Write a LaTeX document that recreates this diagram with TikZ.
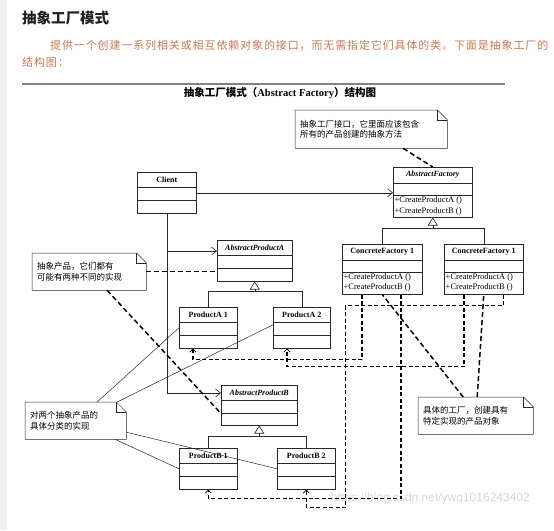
\documentclass[tikz,border=0pt]{standalone}
\usepackage{fontspec}
\setmainfont{Liberation Serif}
\newfontfamily\cjk{Noto Sans CJK SC}
\newfontfamily\cjksp[LetterSpace=8]{Noto Sans CJK SC}
\newfontfamily\wmfont{Liberation Sans}
\usetikzlibrary{arrows.meta,calc}
\definecolor{paracol}{RGB}{200,120,85}
\definecolor{headcol}{RGB}{34,34,34}
\definecolor{rulecol}{RGB}{130,130,130}
\definecolor{gutter}{RGB}{240,240,240}
\definecolor{linecol}{RGB}{40,40,40}
\newcommand{\umlcls}[7]{%
  \node[clsbox, minimum width=#4pt, minimum height=#5pt, anchor=north west] (#1) at (#2,#3) {};
  \draw[thinline] ($(#1.north west)+(0,#6)$) -- ($(#1.north east)+(0,#6)$);
  \draw[thinline] ($(#1.north west)+(0,#7)$) -- ($(#1.north east)+(0,#7)$);
}
\newcommand{\noteframe}[1]{%
  \draw[thinline] (#1.north west) -- ($(#1.north east)+(-10,0)$) -- ($(#1.north east)+(0,10)$) -- (#1.south east) -- (#1.south west) -- cycle;
  \draw[thinline] ($(#1.north east)+(-10,0)$) -- ($(#1.north east)+(-10,10)$) -- ($(#1.north east)+(0,10)$);
}
\begin{document}
\begin{tikzpicture}[x=1pt,y=-1pt,
  thinline/.style={line width=0.5pt, draw=linecol},
  clsbox/.style={draw=linecol, line width=0.5pt, fill=white, inner sep=0pt},
  clstitle/.style={font=\fontsize{8}{9}\selectfont\bfseries, inner sep=0pt},
  clsitalic/.style={font=\fontsize{8}{9}\selectfont\bfseries\itshape, inner sep=0pt},
  ops/.style={font=\fontsize{8.5}{9}\selectfont, inner sep=0pt, anchor=west},
  notebox/.style={inner xsep=5pt, inner ysep=0pt, align=left, anchor=north west, font=\cjk\fontsize{8.5}{10.5}\selectfont},
  notedash/.style={line width=1.5pt, dash pattern=on 5pt off 3pt, draw=black},
  dep/.style={line width=1.2pt, dash pattern=on 4pt off 2.5pt, draw=black, -{Straight Barb[length=3pt,width=6pt,line width=0.8pt]}},
  assoc/.style={line width=0.5pt, draw=linecol, -{Straight Barb[length=5pt,width=8pt,line width=0.6pt]}},
  inh/.style={line width=0.5pt, draw=linecol, -{Triangle[open,length=8pt,width=10pt,line width=0.6pt,fill=white]}},
]
\useasboundingbox (0,0) rectangle (554,530);
\fill[gutter] (0,0) rectangle (7,530);

% page header
\node[anchor=west, inner sep=0pt, font=\cjk\bfseries\fontsize{14.5}{16}\selectfont, text=headcol] (hdr) at (22,18) {抽象工厂模式};
\node[anchor=west, inner sep=0pt, font=\cjksp\fontsize{11}{13}\selectfont, text=paracol] (p1) at (50,45) {提供一个创建一系列相关或相互依赖对象的接口，而无需指定它们具体的类。下面是抽象工厂的};
\node[anchor=west, inner sep=0pt, font=\cjksp\fontsize{11}{13}\selectfont, text=paracol] (p2) at (22,62) {结构图：};
\draw[rulecol, line width=1.5pt] (22,84) -- (505,84);
\node[inner sep=0pt, font=\fontsize{10.5}{12}\selectfont\bfseries] (dtitle) at (280,93) {{\cjk 抽象工厂模式（}Abstract Factory{\cjk ）结构图}};

% watermark
\node[anchor=east, inner sep=0pt, font=\wmfont\fontsize{12}{14}\selectfont, text=black!16] (wm) at (530,498) {https://blog.csdn.net/ywq1016243402};

% classes
\umlcls{client}{137}{172}{59}{41}{15}{28}
\umlcls{af}{393}{167}{79}{50}{16}{28}
\umlcls{cfa}{342}{244}{80}{50}{16}{28}
\umlcls{cfb}{444}{244}{79}{50}{16}{28}
\umlcls{apa}{217}{240}{75}{41}{15}{28}
\umlcls{pa1}{179}{307}{58}{41}{15}{28}
\umlcls{pa2}{273}{307}{57}{41}{15}{28}
\umlcls{apb}{221}{385}{76}{40}{15}{28}
\umlcls{pb1}{179}{448}{58}{41}{15}{28}
\umlcls{pb2}{277}{448}{58}{41}{15}{28}

\node[clstitle] (client-t) at ($(client.north)+(0,7.5)$) {Client};
\node[clsitalic] (af-t) at ($(af.north)+(0,8)$) {AbstractFactory};
\node[clstitle] (cfa-t) at ($(cfa.north)+(0,8)$) {ConcreteFactory 1};
\node[clstitle] (cfb-t) at ($(cfb.north)+(0,8)$) {ConcreteFactory 1};
\node[clsitalic] (apa-t) at ($(apa.north)+(0,7.5)$) {AbstractProductA};
\node[clstitle] (pa1-t) at ($(pa1.north)+(0,7.5)$) {ProductA 1};
\node[clstitle] (pa2-t) at ($(pa2.north)+(0,7.5)$) {ProductA 2};
\node[clsitalic] (apb-t) at ($(apb.north)+(0,7.5)$) {AbstractProductB};
\node[clstitle] (pb1-t) at ($(pb1.north)+(0,7.5)$) {ProductB 1};
\node[clstitle] (pb2-t) at ($(pb2.north)+(0,7.5)$) {ProductB 2};

\node[ops] (af-o1) at ($(af.north west)+(1.5,33)$) {+CreateProductA ()};
\node[ops] (af-o2) at ($(af.north west)+(1.5,44)$) {+CreateProductB ()};
\node[ops] (cfa-o1) at ($(cfa.north west)+(1.5,33)$) {+CreateProductA ()};
\node[ops] (cfa-o2) at ($(cfa.north west)+(1.5,43)$) {+CreateProductB ()};
\node[ops] (cfb-o1) at ($(cfb.north west)+(1.5,33)$) {+CreateProductA ()};
\node[ops] (cfb-o2) at ($(cfb.north west)+(1.5,43)$) {+CreateProductB ()};

% inheritance
\path (af.south) ++(0,11) coordinate (jf);
\draw[thinline] (cfa.north) |- (jf) -| (cfb.north);
\draw[inh] (jf) -- (af.south);
\path (apa.south) ++(0,10) coordinate (ja);
\draw[thinline] (pa1.north) |- (ja) -| (pa2.north);
\draw[inh] (ja) -- (apa.south);
\path (apb.south) ++(0,11) coordinate (jb);
\draw[thinline] (pb1.north) |- (jb) -| (pb2.north);
\draw[inh] (jb) -- (apb.south);

% associations
\draw[assoc] (client.east) -- (client.east -| af.west);
\coordinate (ca) at ($(apa.north west)+(0,11)$);
\coordinate (cb) at ($(apb.north west)+(0,8)$);
\draw[assoc] (client.south) |- (cb);
\draw[assoc] (client.south |- ca) -- (ca);

% dependencies
\draw[dep] ($(cfa.south west)+(20,0)$) -- ++(0,65) -| ($(pa1.south west)+(14,0)$);
\draw[dep] ($(cfb.south west)+(20,0)$) -- ++(0,72) -| ($(pa2.south west)+(14,0)$);
\draw[dep] ($(cfa.south west)+(59,0)$) -- ++(0,204) -| (pb1.south);
\draw[dep] ($(cfb.south east)+(-20,0)$) -- ++(0,11) -- ++(-158,0) -- ++(0,202) -| (pb2.south);

% notes
\node[notebox, minimum height=38pt, text width=142pt] (n1) at (295,110) {抽象工厂接口，它里面应该包含\\所有的产品创建的抽象方法};
\node[notebox, minimum height=37pt, text width=104pt] (n2) at (32,253) {抽象产品，它们都有\\可能有两种不同的实现};
\node[notebox, minimum height=37pt, text width=91pt] (n3) at (25,402) {对两个抽象产品的\\具体分类的实现};
\node[notebox, minimum height=37pt, text width=105pt] (n4) at (418,397) {具体的工厂，创建具有\\特定实现的产品对象};
\noteframe{n1}
\noteframe{n2}
\noteframe{n3}
\noteframe{n4}

\draw[notedash] ($(n1.south)+(32,0)$) -- (af.north);
\draw[notedash] (n2.east) -- (n2.east -| apa.west);
\draw[notedash] ($(n2.south)+(18,0)$) -- ($(apb.south west)+(0,-12)$);
\draw[notedash] ($(n4.north)+(-12.5,0)$) -- (cfa.south);
\draw[notedash] ($(n4.north)+(1.5,0)$) -- (cfb.south);

\draw[thinline] ($(n3.north)+(21.5,0)$) -- (pa1.west);
\draw[thinline] ($(n3.north)+(41.5,0)$) -- ($(pa2.west)+(0,-3)$);
\draw[thinline] ($(n3.east)+(0,11.5)$) -- (pb2.west);
\draw[thinline] ($(n3.south)+(39.5,0)$) -- (pb1.west);
\end{tikzpicture}
\end{document}
